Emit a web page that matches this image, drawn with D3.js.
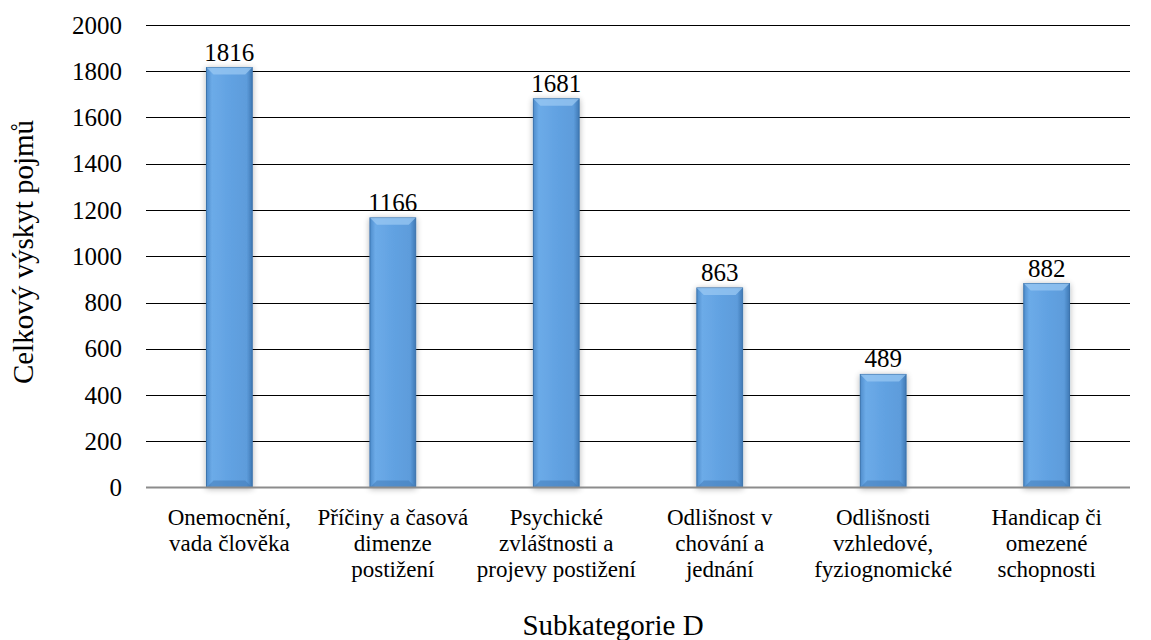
<!DOCTYPE html>
<html><head><meta charset="utf-8">
<script src="https://cdn.jsdelivr.net/npm/d3@7"></script>
<style>body{margin:0;background:#fff} svg text{font-family:"Liberation Serif","Times New Roman",serif !important;}</style>
</head><body><svg id="c" width="1151" height="640"></svg>
<script>
const categories = [
  ["Onemocnění,", "vada člověka"],
  ["Příčiny a časová", "dimenze", "postižení"],
  ["Psychické", "zvláštnosti a", "projevy postižení"],
  ["Odlišnost v", "chování a", "jednání"],
  ["Odlišnosti", "vzhledové,", "fyziognomické"],
  ["Handicap či", "omezené", "schopnosti"]
];
const values = [1816, 1166, 1681, 863, 489, 882];
const yTicks = [0, 200, 400, 600, 800, 1000, 1200, 1400, 1600, 1800, 2000];
const yTitle = "Celkový výskyt pojmů";
const xTitle = "Subkategorie D";

const svg = d3.select("#c");
const m = {l:146, r:1130, t:25, b:487.5};
const x = d3.scaleBand().domain(d3.range(values.length)).range([m.l, m.r]).paddingInner(0.72).paddingOuter(0.37);
const y = d3.scaleLinear().domain([0, 2000]).range([m.b, m.t]);

const defs = svg.append("defs");
const g1 = defs.append("linearGradient").attr("id","bg").attr("x1","0").attr("x2","1").attr("y1","0").attr("y2","0");
[[0,"#4f8dcc"],[0.12,"#6cabe8"],[0.5,"#62a2e2"],[0.88,"#5d9cdb"],[1,"#4079b5"]].forEach(s=>g1.append("stop").attr("offset",s[0]).attr("stop-color",s[1]));
const f = defs.append("filter").attr("id","sh").attr("x","-30%").attr("y","-10%").attr("width","160%").attr("height","120%");
f.append("feGaussianBlur").attr("in","SourceAlpha").attr("stdDeviation",3).attr("result","b");
f.append("feOffset").attr("dx",0).attr("dy",1).attr("result","o");
f.append("feComponentTransfer").append("feFuncA").attr("type","linear").attr("slope",0.3);
const fm = f.append("feMerge"); fm.append("feMergeNode"); fm.append("feMergeNode").attr("in","SourceGraphic");

// gridlines
svg.append("g").selectAll("line").data(yTicks.filter(d=>d>0)).join("line")
  .attr("x1", m.l).attr("x2", m.r).attr("y1", d=>Math.round(y(d))+0.5).attr("y2", d=>Math.round(y(d))+0.5)
  .attr("stroke","#000").attr("stroke-width",1);

// y axis
const ya = svg.append("g").attr("transform",`translate(${m.l},0)`)
  .call(d3.axisLeft(y).tickValues(yTicks).tickFormat(d3.format("d")).tickSize(0).tickPadding(24));
ya.select(".domain").remove();
ya.selectAll("text").attr("font-size",25).attr("fill","#000");

// bars
const bars = svg.append("g").selectAll("g").data(values).join("g");
bars.append("rect").attr("x",(d,i)=>x(i)).attr("width",x.bandwidth())
  .attr("y",d=>y(d)).attr("height",d=>y(0)-y(d))
  .attr("fill","url(#bg)").attr("stroke","#3b74ad").attr("stroke-width",1).attr("filter","url(#sh)");
bars.append("path").attr("d",(d,i)=>{
  const x0=x(i), x1=x(i)+x.bandwidth(), t=y(d), bw=7;
  return `M${x0},${t}L${x1},${t}L${x1-bw},${t+bw}L${x0+bw},${t+bw}Z`;
}).attr("fill","#9ccaf4").attr("opacity",0.7);
bars.append("path").attr("d",(d,i)=>{
  const x0=x(i), x1=x(i)+x.bandwidth(), b=y(0), bw=7;
  return `M${x0},${b}L${x1},${b}L${x1-bw},${b-bw}L${x0+bw},${b-bw}Z`;
}).attr("fill","#3f78b3").attr("opacity",0.5);

// baseline
svg.append("line").attr("x1",m.l).attr("x2",m.r).attr("y1",y(0)).attr("y2",y(0))
  .attr("stroke","#8c8c8c").attr("stroke-width",2);

// value labels
svg.append("g").selectAll("text").data(values).join("text")
  .attr("x",(d,i)=>x(i)+x.bandwidth()/2).attr("y",d=>y(d)-7)
  .attr("text-anchor","middle").attr("font-size",25).attr("fill","#000")
  .text(d=>d);

// category labels
const cl = svg.append("g").selectAll("text").data(categories).join("text")
  .attr("x",(d,i)=>x(i)+x.bandwidth()/2).attr("y",525)
  .attr("text-anchor","middle").attr("font-size",23).attr("fill","#000");
cl.selectAll("tspan").data(d=>d).join("tspan")
  .attr("x",function(){return this.parentNode.getAttribute("x");})
  .attr("dy",(d,i)=>i===0?0:26).text(d=>d);

// titles
svg.append("text").attr("x",613).attr("y",635).attr("text-anchor","middle")
  .attr("font-size",29).text(xTitle);
svg.append("text").attr("transform",`translate(33,252) rotate(-90)`).attr("text-anchor","middle")
  .attr("font-size",29).text(yTitle);
</script></body></html>
